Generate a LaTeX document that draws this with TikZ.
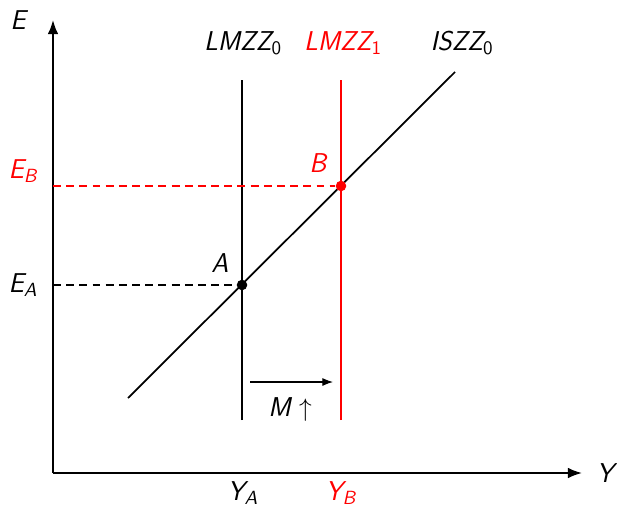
\documentclass[tikz,border=0pt]{standalone}
\usepackage{tikz}
\usetikzlibrary{arrows.meta}

\begin{document}
\begin{tikzpicture}[x=0.02cm,y=0.02cm,
  axis/.style={line width=1pt,-{Latex[length=8pt,width=6pt]}},
  curve/.style={line width=1pt},
  shifted/.style={red,line width=0.6pt},
  guide/.style={dash pattern=on 4.5pt off 3pt,line width=0.8pt},
  lbl/.style={font=\fontsize{15.5}{18}\selectfont\sffamily\itshape,inner sep=1pt},
  dot/.style={circle,fill,inner sep=0pt,minimum size=6pt}]
  \useasboundingbox (-53,-37) rectangle (564,473);
  % axes
  \coordinate (O) at (0,0);
  \coordinate (Etop) at (0,453);
  \coordinate (Yend) at (529,0);
  \draw[axis] (O) -- (Etop);
  \draw[axis] (O) -- (Yend);
  \node[lbl] (Elab) at (-35,453) {E};
  \node[lbl] (Ylab) at (552,0) {Y};

  % curves
  \coordinate (LMa) at (189,393);
  \coordinate (LMb) at (189,53);
  \coordinate (LNa) at (288,393);
  \coordinate (LNb) at (288,53);
  \coordinate (ISa) at (75,75);
  \coordinate (ISb) at (402,401);
  \draw[curve] (LMb) -- (LMa);
  \draw[shifted] (LNb) -- (LNa);
  \draw[curve] (ISa) -- (ISb);
  \node[lbl] (LMlab) at (190,430) {LMZZ\textsubscript{\upshape 0}};
  \node[lbl,red] (LNlab) at (290,430) {LMZZ\textsubscript{\upshape 1}};
  \node[lbl] (ISlab) at (409,430) {ISZZ\textsubscript{\upshape 0}};

  % equilibria
  \node[dot] (A) at (189,188) {};
  \node[dot,red] (B) at (288,287) {};
  \coordinate (EA) at (0,188);
  \coordinate (EB) at (0,287);
  \draw[guide] (EA) -- (A);
  \draw[guide,red] (EB) -- (B);
  \node[lbl] (Alab) at (167,210) {A};
  \node[lbl,red] (Blab) at (265,310) {B};
  \node[lbl] (EAlab) at (-30,188) {E\textsubscript{A}};
  \node[lbl,red] (EBlab) at (-30,302) {E\textsubscript{B}};
  \node[lbl] (YAlab) at (190,-20) {Y\textsubscript{A}};
  \node[lbl,red] (YBlab) at (288,-20) {Y\textsubscript{B}};

  % shift of LM
  \coordinate (Ma) at (197,91);
  \coordinate (Mb) at (280,91);
  \draw[line width=0.6pt,-{Latex[length=6pt,width=4.5pt]}] (Ma) -- (Mb);
  \node[lbl] (Mlab) at (237,63) {M~$\uparrow$};
\end{tikzpicture}
\end{document}
